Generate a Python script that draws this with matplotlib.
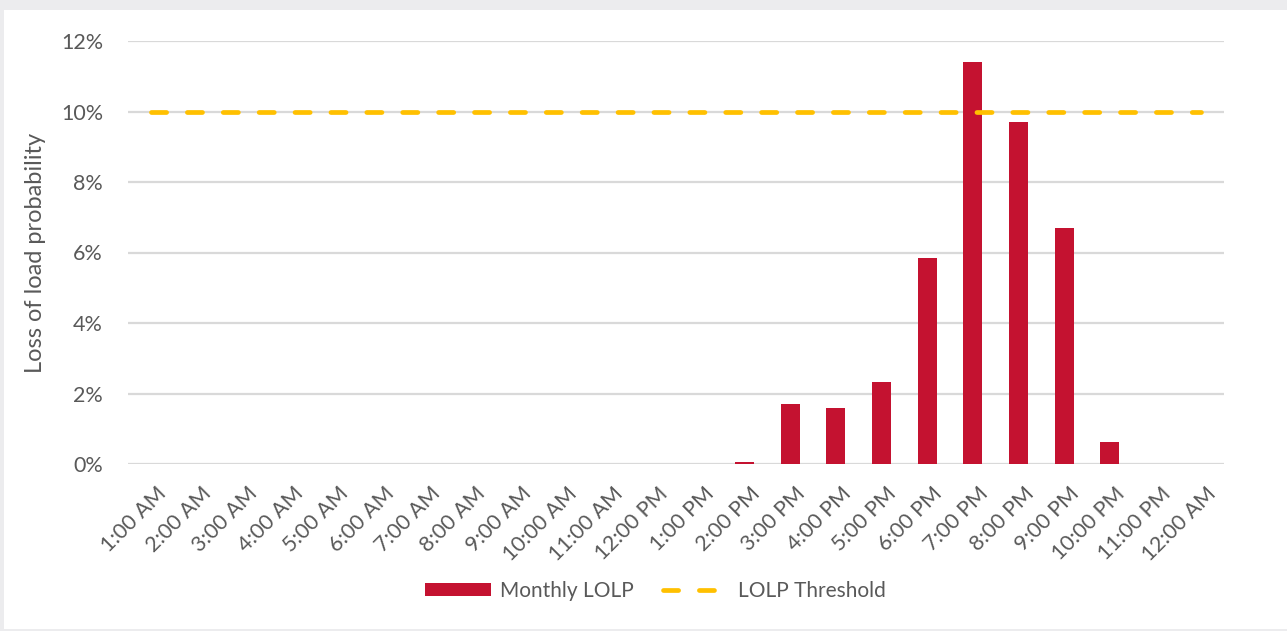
import matplotlib.pyplot as plt
import matplotlib.transforms as mtransforms
from matplotlib.patches import Rectangle
from matplotlib.ticker import FuncFormatter

hours = ['1:00 AM', '2:00 AM', '3:00 AM', '4:00 AM', '5:00 AM', '6:00 AM',
         '7:00 AM', '8:00 AM', '9:00 AM', '10:00 AM', '11:00 AM', '12:00 PM',
         '1:00 PM', '2:00 PM', '3:00 PM', '4:00 PM', '5:00 PM', '6:00 PM',
         '7:00 PM', '8:00 PM', '9:00 PM', '10:00 PM', '11:00 PM', '12:00 AM']
monthly_lolp = [0, 0, 0, 0, 0, 0, 0, 0, 0, 0, 0, 0,
                0, 0.06, 1.69, 1.58, 2.34, 5.84, 11.40, 9.70, 6.70, 0.63, 0, 0]
threshold = [10] * len(hours)

text_col = '#595959'
plt.rcParams['font.family'] = ['Lato', 'DejaVu Sans']

fig = plt.figure(figsize=(12.87, 6.31), dpi=100)
fig.patch.set_facecolor('#ececee')
fig.patches.append(Rectangle((4 / 1287, 2 / 631), 1283 / 1287, 619 / 631,
                             transform=fig.transFigure, facecolor='white',
                             edgecolor='none', zorder=-10))

ax = fig.add_axes([128 / 1287, 1 - 464 / 631, 1096 / 1287, 423 / 631])
ax.set_facecolor('white')

x = range(len(hours))
bars = ax.bar(x, monthly_lolp, width=0.41, color='#c41230', label='Monthly LOLP', zorder=3)
line, = ax.plot(x, threshold, color='#ffc000', lw=3.4, dashes=(3.2, 4.4),
                dash_capstyle='round', label='LOLP Threshold', zorder=4)

ax.set_xlim(-0.5, len(hours) - 0.5)
ax.set_ylim(0, 12)
ax.set_yticks(range(0, 13, 2))
ax.yaxis.set_major_formatter(FuncFormatter(lambda v, p: f'{v:.0f}%'))
ax.grid(axis='y', color='#d9d9d9', lw=1.6, zorder=0)
for s in ax.spines.values():
    s.set_visible(False)
ax.tick_params(length=0, colors=text_col, labelsize=15.5)
ax.tick_params(axis='y', pad=18)
ax.set_xticks(list(x))
ax.set_xticklabels(hours, rotation=45, ha='right', rotation_mode='anchor')
ax.tick_params(axis='x', pad=14)
shift = mtransforms.ScaledTranslation(5 / 100, 0, fig.dpi_scale_trans)
for lab in ax.get_xticklabels():
    lab.set_transform(lab.get_transform() + shift)

ax.set_ylabel('Loss of load probability', color=text_col, fontsize=17, labelpad=11)

ax.legend([bars, line], ['Monthly LOLP', 'LOLP Threshold'],
          loc='center', bbox_to_anchor=(0.481, -0.30), ncol=2, frameon=False,
          fontsize=15, labelcolor=text_col, handlelength=3.2,
          handleheight=0.6, columnspacing=1.4, handletextpad=0.4)

fig.savefig('out.png', dpi=100, facecolor=fig.get_facecolor())
